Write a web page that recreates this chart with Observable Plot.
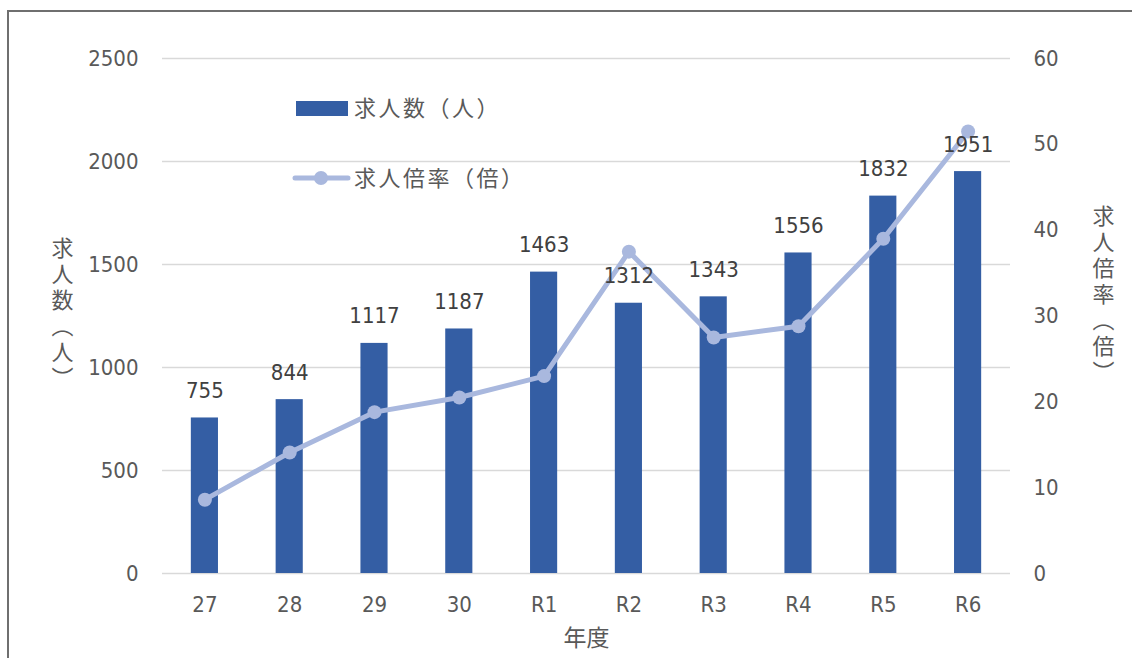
<!DOCTYPE html>
<html>
<head>
<meta charset="utf-8">
<script src="https://cdn.jsdelivr.net/npm/d3@7"></script>
<script src="https://cdn.jsdelivr.net/npm/@observablehq/plot@0.6"></script>
<style>
  body { margin: 0; background: #fff; }
  #wrap { position: relative; width: 1132px; height: 658px; overflow: hidden; }
  #frame { position: absolute; left: 7px; top: 10px; right: -10px; bottom: -10px; border-left: 2px solid #6f6f6f; border-top: 2px solid #6f6f6f; pointer-events: none; }
</style>
</head>
<body>
<div id="wrap"><div id="frame"></div></div>
<script>
const years = ["27", "28", "29", "30", "R1", "R2", "R3", "R4", "R5", "R6"];
const jobs = [755, 844, 1117, 1187, 1463, 1312, 1343, 1556, 1832, 1951];
const ratio = [8.6, 14.1, 18.8, 20.5, 23.0, 37.5, 27.5, 28.8, 39.0, 51.5];
const leftTicks = [0, 500, 1000, 1500, 2000, 2500];
const rightTicks = [0, 10, 20, 30, 40, 50, 60];
const seriesNames = ["求人数（人）", "求人倍率（倍）"];
const yLabelLeft = "求人数（人）";
const yLabelRight = "求人倍率（倍）";
const xLabel = "年度";

const LMAX = 2500, RMAX = 60;
const k = LMAX / RMAX;
const data = years.map((y, i) => ({year: y, jobs: jobs[i], ratio: ratio[i], r: ratio[i] * k}));

const barColor = "#345ea4";
const lineColor = "#a9b8de";
const tickColor = "#595959";
const font = '"DejaVu Sans Condensed", "Noto Sans CJK JP", sans-serif';
const cjkFont = '"Noto Sans CJK JP", sans-serif';

const chart = Plot.plot({
  width: 1132,
  height: 658,
  marginLeft: 162,
  marginRight: 122,
  marginTop: 58,
  marginBottom: 85,
  style: {fontFamily: font, fontSize: "22px", background: "transparent", overflow: "visible"},
  x: {domain: years, paddingInner: 0.68, paddingOuter: 0.34, round: false, label: null},
  y: {domain: [0, LMAX], label: null},
  marks: [
    Plot.gridY(leftTicks, {stroke: "#d9d9d9", strokeOpacity: 1, strokeWidth: 1.6}),
    Plot.axisY(leftTicks, {anchor: "left", tickSize: 0, tickPadding: 24, fill: tickColor, fontSize: 22, label: null, tickFormat: d => String(d)}),
    Plot.axisY(rightTicks.map(v => v * k), {anchor: "right", tickSize: 0, tickPadding: 23, fill: tickColor, fontSize: 22, label: null, tickFormat: d => String(Math.round(d / k))}),
    Plot.axisX({tickSize: 0, tickPadding: 23, fill: tickColor, fontSize: 22, label: null}),
    Plot.barY(data, {x: "year", y: "jobs", fill: barColor}),
    Plot.line(data, {x: "year", y: "r", stroke: lineColor, strokeWidth: 5, curve: "linear"}),
    Plot.dot(data, {x: "year", y: "r", r: 7, fill: lineColor, stroke: "none"}),
    Plot.text(data, {x: "year", y: "jobs", text: d => String(d.jobs), dy: -27, fill: "#404040", fontSize: 22}),
    Plot.text([xLabel], {frameAnchor: "bottom", dy: 72, fill: tickColor, fontSize: 23}),
    Plot.text([yLabelLeft], {frameAnchor: "left", dx: -100, dy: -8, fill: tickColor, fontSize: 22}),
    Plot.text([yLabelRight], {frameAnchor: "right", dx: 93, dy: -27, fill: tickColor, fontSize: 22})
  ]
});

d3.select(chart).selectAll("text").filter(function () {
  const t = this.textContent;
  return t === yLabelLeft || t === yLabelRight;
}).style("writing-mode", "vertical-rl").style("letter-spacing", "4px")
  .style("font-family", cjkFont).attr("text-anchor", "middle");
d3.select(chart).selectAll("text").filter(function () {
  return this.textContent === xLabel;
}).style("font-family", cjkFont);

const wrap = document.getElementById("wrap");
wrap.insertBefore(chart, wrap.firstChild);

// Legend overlay
const lg = d3.select(wrap).append("svg").attr("width", 1132).attr("height", 658)
  .style("position", "absolute").style("left", "0px").style("top", "0px");
const items = [
  {name: seriesNames[0], kind: "bar", y: 108},
  {name: seriesNames[1], kind: "line", y: 178}
];
items.forEach(it => {
  const g = lg.append("g");
  if (it.kind === "bar") {
    g.append("rect").attr("x", 296).attr("y", it.y - 7).attr("width", 52).attr("height", 15).attr("fill", barColor);
  } else {
    g.append("line").attr("x1", 295).attr("x2", 348).attr("y1", it.y).attr("y2", it.y)
      .attr("stroke", lineColor).attr("stroke-width", 5).attr("stroke-linecap", "round");
    g.append("circle").attr("cx", 321).attr("cy", it.y).attr("r", 7).attr("fill", lineColor);
  }
  g.append("text").attr("x", 354).attr("y", it.y).attr("dy", "0.36em")
    .attr("font-family", cjkFont).attr("font-size", 22).attr("letter-spacing", "2.5px")
    .attr("fill", tickColor).text(it.name);
});
</script>
</body>
</html>
